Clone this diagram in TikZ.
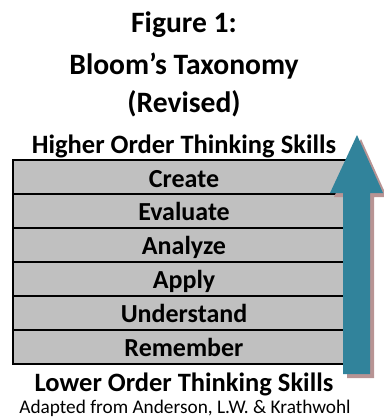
\documentclass[tikz,border=0pt]{standalone}
\usepackage{fontspec}
\setmainfont{Carlito}
\definecolor{arrowteal}{RGB}{49,131,155}
\definecolor{arrowshade}{RGB}{184,148,148}
\definecolor{levelgray}{RGB}{192,192,192}
\begin{document}
\begin{tikzpicture}[x=1pt,y=-1pt,
  titletext/.style={font=\bfseries\fontsize{29.6}{32}\selectfont, anchor=base, inner sep=0pt},
  headtext/.style={font=\bfseries\fontsize{26.5}{30}\selectfont, anchor=base, inner sep=0pt},
  leveltext/.style={font=\bfseries\fontsize{26}{30}\selectfont, anchor=base, inner sep=0pt},
  notetext/.style={font=\fontsize{19.3}{22}\selectfont, anchor=base, inner sep=0pt},
  levelbox/.style={draw=black, line width=2pt, fill=levelgray},
]
\useasboundingbox (0,0) rectangle (383,417);

% title
\node[titletext] (fig) at (184,33) {Figure 1:};
\node[titletext] (title) at (184,75) {Bloom’s Taxonomy};
\node[titletext] (rev) at (184,113) {(Revised)};
\node[headtext] (higher) at (184,153) {Higher Order Thinking Skills};

% stacked levels
\foreach \name/\label [count=\i from 0] in {create/Create, evaluate/Evaluate, analyze/Analyze, apply/Apply, understand/Understand, remember/Remember}{
  \path[levelbox] (13,{160+\i*34}) rectangle (350,{194+\i*34});
  \node[leveltext] (\name) at (184,{187+\i*33.8}) {\label};
}

% arrow from lower to higher order thinking
\fill[arrowshade] (347,378) -- (347,197) -- (334,197) -- (361,139)
  -- (387,197) -- (374,197) -- (374,378) -- cycle;
\fill[arrowteal] (343,374) -- (343,193) -- (330,193) -- (357,135)
  -- (383,193) -- (370,193) -- (370,374) -- cycle;

\node[headtext] (lower) at (184,391) {Lower Order Thinking Skills};
\node[notetext] (note) at (185,413) {Adapted from Anderson, L.W. \& Krathwohl};
\end{tikzpicture}
\end{document}
